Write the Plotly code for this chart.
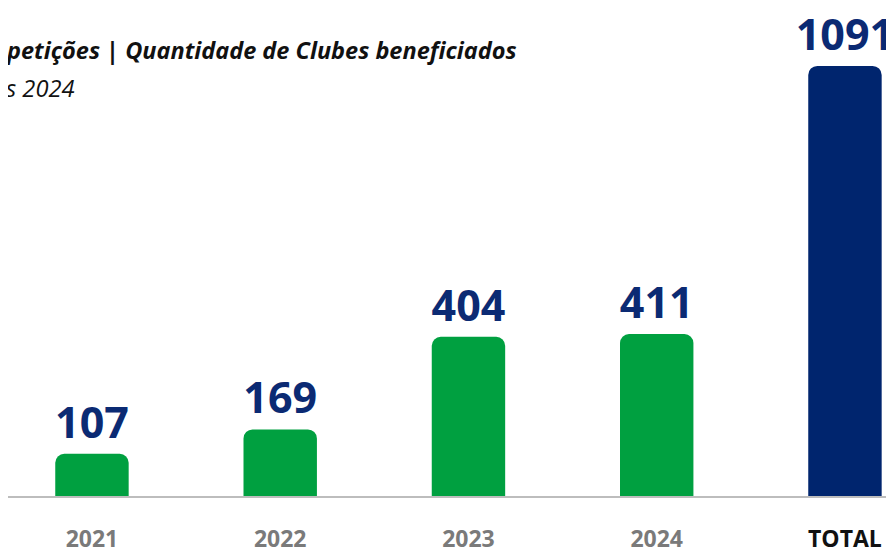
import plotly.graph_objects as go

categories = ["2021", "2022", "2023", "2024", "TOTAL"]
values = [107, 169, 404, 411, 1091]
bar_colors = ["#00a040", "#00a040", "#00a040", "#00a040", "#00256e"]
tick_labels = ["2021", "2022", "2023", "2024", "<span style='color:#111111'>TOTAL</span>"]

title_text = "petições | Quantidade de Clubes beneficiados"
subtitle_text = "s 2024"

FONT = "Open Sans"
W, H = 894, 548
B = 60

fig = go.Figure(go.Bar(
    x=list(range(len(categories))),
    y=values,
    width=0.39,
    marker=dict(color=bar_colors, line=dict(width=0)),
    text=[str(v) for v in values],
    textposition="outside",
    constraintext="none",
    textfont=dict(family=FONT, size=43, color="#0b2a73", weight=700),
    cliponaxis=False,
))

plot_h = H - B
annotations = [
    dict(text="<b><i>" + title_text + "</i></b>", px=-4, py=42, size=23.5),
    dict(text="<i>" + subtitle_text + "</i>", px=-4, py=80, size=23.7),
]

fig.update_layout(
    width=W, height=H,
    margin=dict(l=0, r=0, t=0, b=B),
    paper_bgcolor="white", plot_bgcolor="white",
    barcornerradius=9,
    showlegend=False,
    xaxis=dict(
        range=[-0.446, 4.303],
        tickvals=list(range(len(categories))),
        ticktext=tick_labels,
        tickfont=dict(family=FONT, size=23, color="#7a7a7a", weight=700),
        showline=True, linecolor="#bdbdbd", linewidth=2,
        showgrid=False, zeroline=False, ticks="",
        ticklabelstandoff=21,
        automargin=False,
    ),
    yaxis=dict(range=[0, 1238], visible=False, showgrid=False, zeroline=False,
               automargin=False),
    annotations=[
        dict(text=a["text"], x=a["px"] / W, y=1 - a["py"] / plot_h,
             xref="paper", yref="paper", xanchor="left", yanchor="middle",
             showarrow=False, font=dict(family=FONT, size=a["size"], color="#111111"))
        for a in annotations
    ],
)

fig.write_html("out.html")
